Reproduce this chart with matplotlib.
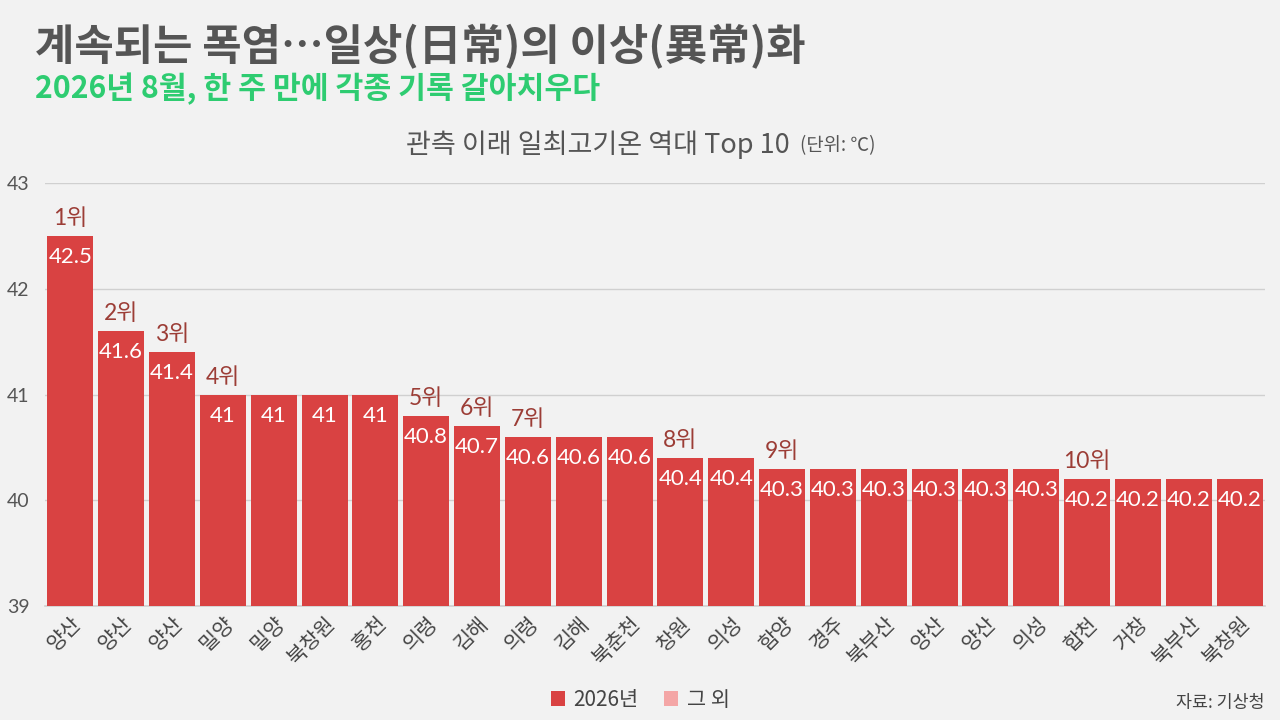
import matplotlib
matplotlib.use("Agg")
import matplotlib.pyplot as plt
from matplotlib.patches import Patch

plt.rcParams['font.family'] = ['Lato', 'Noto Sans CJK KR', 'DejaVu Sans']

stations = ["양산", "양산", "양산", "밀양", "밀양", "북창원", "홍천", "의령", "김해", "의령", "김해", "북춘천",
            "창원", "의성", "함양", "경주", "북부산", "양산", "양산", "의성", "합천", "거창", "북부산", "북창원"]
temps = [42.5, 41.6, 41.4, 41, 41, 41, 41, 40.8, 40.7, 40.6, 40.6, 40.6,
         40.4, 40.4, 40.3, 40.3, 40.3, 40.3, 40.3, 40.3, 40.2, 40.2, 40.2, 40.2]
value_labels = ["42.5", "41.6", "41.4", "41", "41", "41", "41", "40.8", "40.7", "40.6", "40.6", "40.6",
                "40.4", "40.4", "40.3", "40.3", "40.3", "40.3", "40.3", "40.3", "40.2", "40.2", "40.2", "40.2"]
rank_index = [0, 1, 2, 3, 7, 8, 9, 12, 14, 20]
rank_labels = ["1위", "2위", "3위", "4위", "5위", "6위", "7위", "8위", "9위", "10위"]
y_ticks = [39, 40, 41, 42, 43]
legend_labels = ["2026년", "그 외"]

BG = "#f2f2f2"
RED = "#d94242"
PINK = "#f4a6a6"
RANK = "#9c3d36"
GRAY = "#555555"
KR = ['Noto Sans CJK KR', 'DejaVu Sans']

fig = plt.figure(figsize=(12.8, 7.2), dpi=100, facecolor=BG)
ax = fig.add_axes([45/1280, 114/720, 1220/1280, 423/720], facecolor=BG)

x = list(range(len(temps)))
ax.bar(x, [t - 39 for t in temps], bottom=39, width=0.905, color=RED, zorder=3)
ax.set_xlim(-0.5, len(temps) - 0.5)
ax.set_ylim(39, 43)
ax.set_yticks(y_ticks)
ax.set_yticklabels([str(t) for t in y_ticks])
ax.yaxis.grid(True, color="#d0d0d0", linewidth=1, zorder=0)
ax.set_axisbelow(True)
for s in ["top", "right", "left"]:
    ax.spines[s].set_visible(False)
ax.spines["bottom"].set_color("#d0d0d0")
ax.spines["bottom"].set_linewidth(1.2)
ax.tick_params(axis="y", length=0, pad=11, labelsize=14, labelcolor=GRAY)
ax.tick_params(axis="x", length=0, pad=5, labelsize=15, labelcolor="#444444")
ax.set_xticks(x)
ax.set_xticklabels(stations, rotation=45, ha="right", rotation_mode="anchor", family=KR)

for xi, t, vl in zip(x, temps, value_labels):
    ax.annotate(vl, (xi, t), xytext=(0, -8), textcoords="offset points",
                ha="center", va="top", color="white", fontsize=16, zorder=4)

for ri, rl in zip(rank_index, rank_labels):
    ax.annotate(rl, (ri, temps[ri]), xytext=(0, 5), textcoords="offset points",
                ha="center", va="bottom", color=RANK, fontsize=16.5, zorder=4)

fig.text(35/1280, 1 - 47/720, "계속되는 폭염…일상(日常)의 이상(異常)화", fontsize=30.8, fontweight="bold",
         color="#555555", ha="left", va="center", family=KR)
fig.text(35/1280, 1 - 89/720, "2026년 8월, 한 주 만에 각종 기록 갈아치우다", fontsize=21.8, fontweight="bold",
         color="#2ecc71", ha="left", va="center", family=KR)
fig.text(790/1280, 1 - 145/720, "관측 이래 일최고기온 역대 Top 10", fontsize=19.5,
         color=GRAY, ha="right", va="center", family=KR)
fig.text(800/1280, 1 - 146/720, "(단위: ℃)", fontsize=13.5,
         color=GRAY, ha="left", va="center", family=KR)

handles = [Patch(facecolor=RED, edgecolor="none"), Patch(facecolor=PINK, edgecolor="none")]
fig.legend(handles, legend_labels, loc="center", bbox_to_anchor=(0.5, 1 - 700/720), ncol=2,
           frameon=False, handlelength=0.7, handleheight=0.7, handletextpad=0.4,
           columnspacing=1.2, labelcolor="#444444",
           prop={'family': KR, 'size': 15})
fig.text(1265/1280, 1 - 703/720, "자료: 기상청", fontsize=12.5, color="#444444", ha="right", va="center",
         family=KR)

fig.savefig("out.png", dpi=100, facecolor=BG)
